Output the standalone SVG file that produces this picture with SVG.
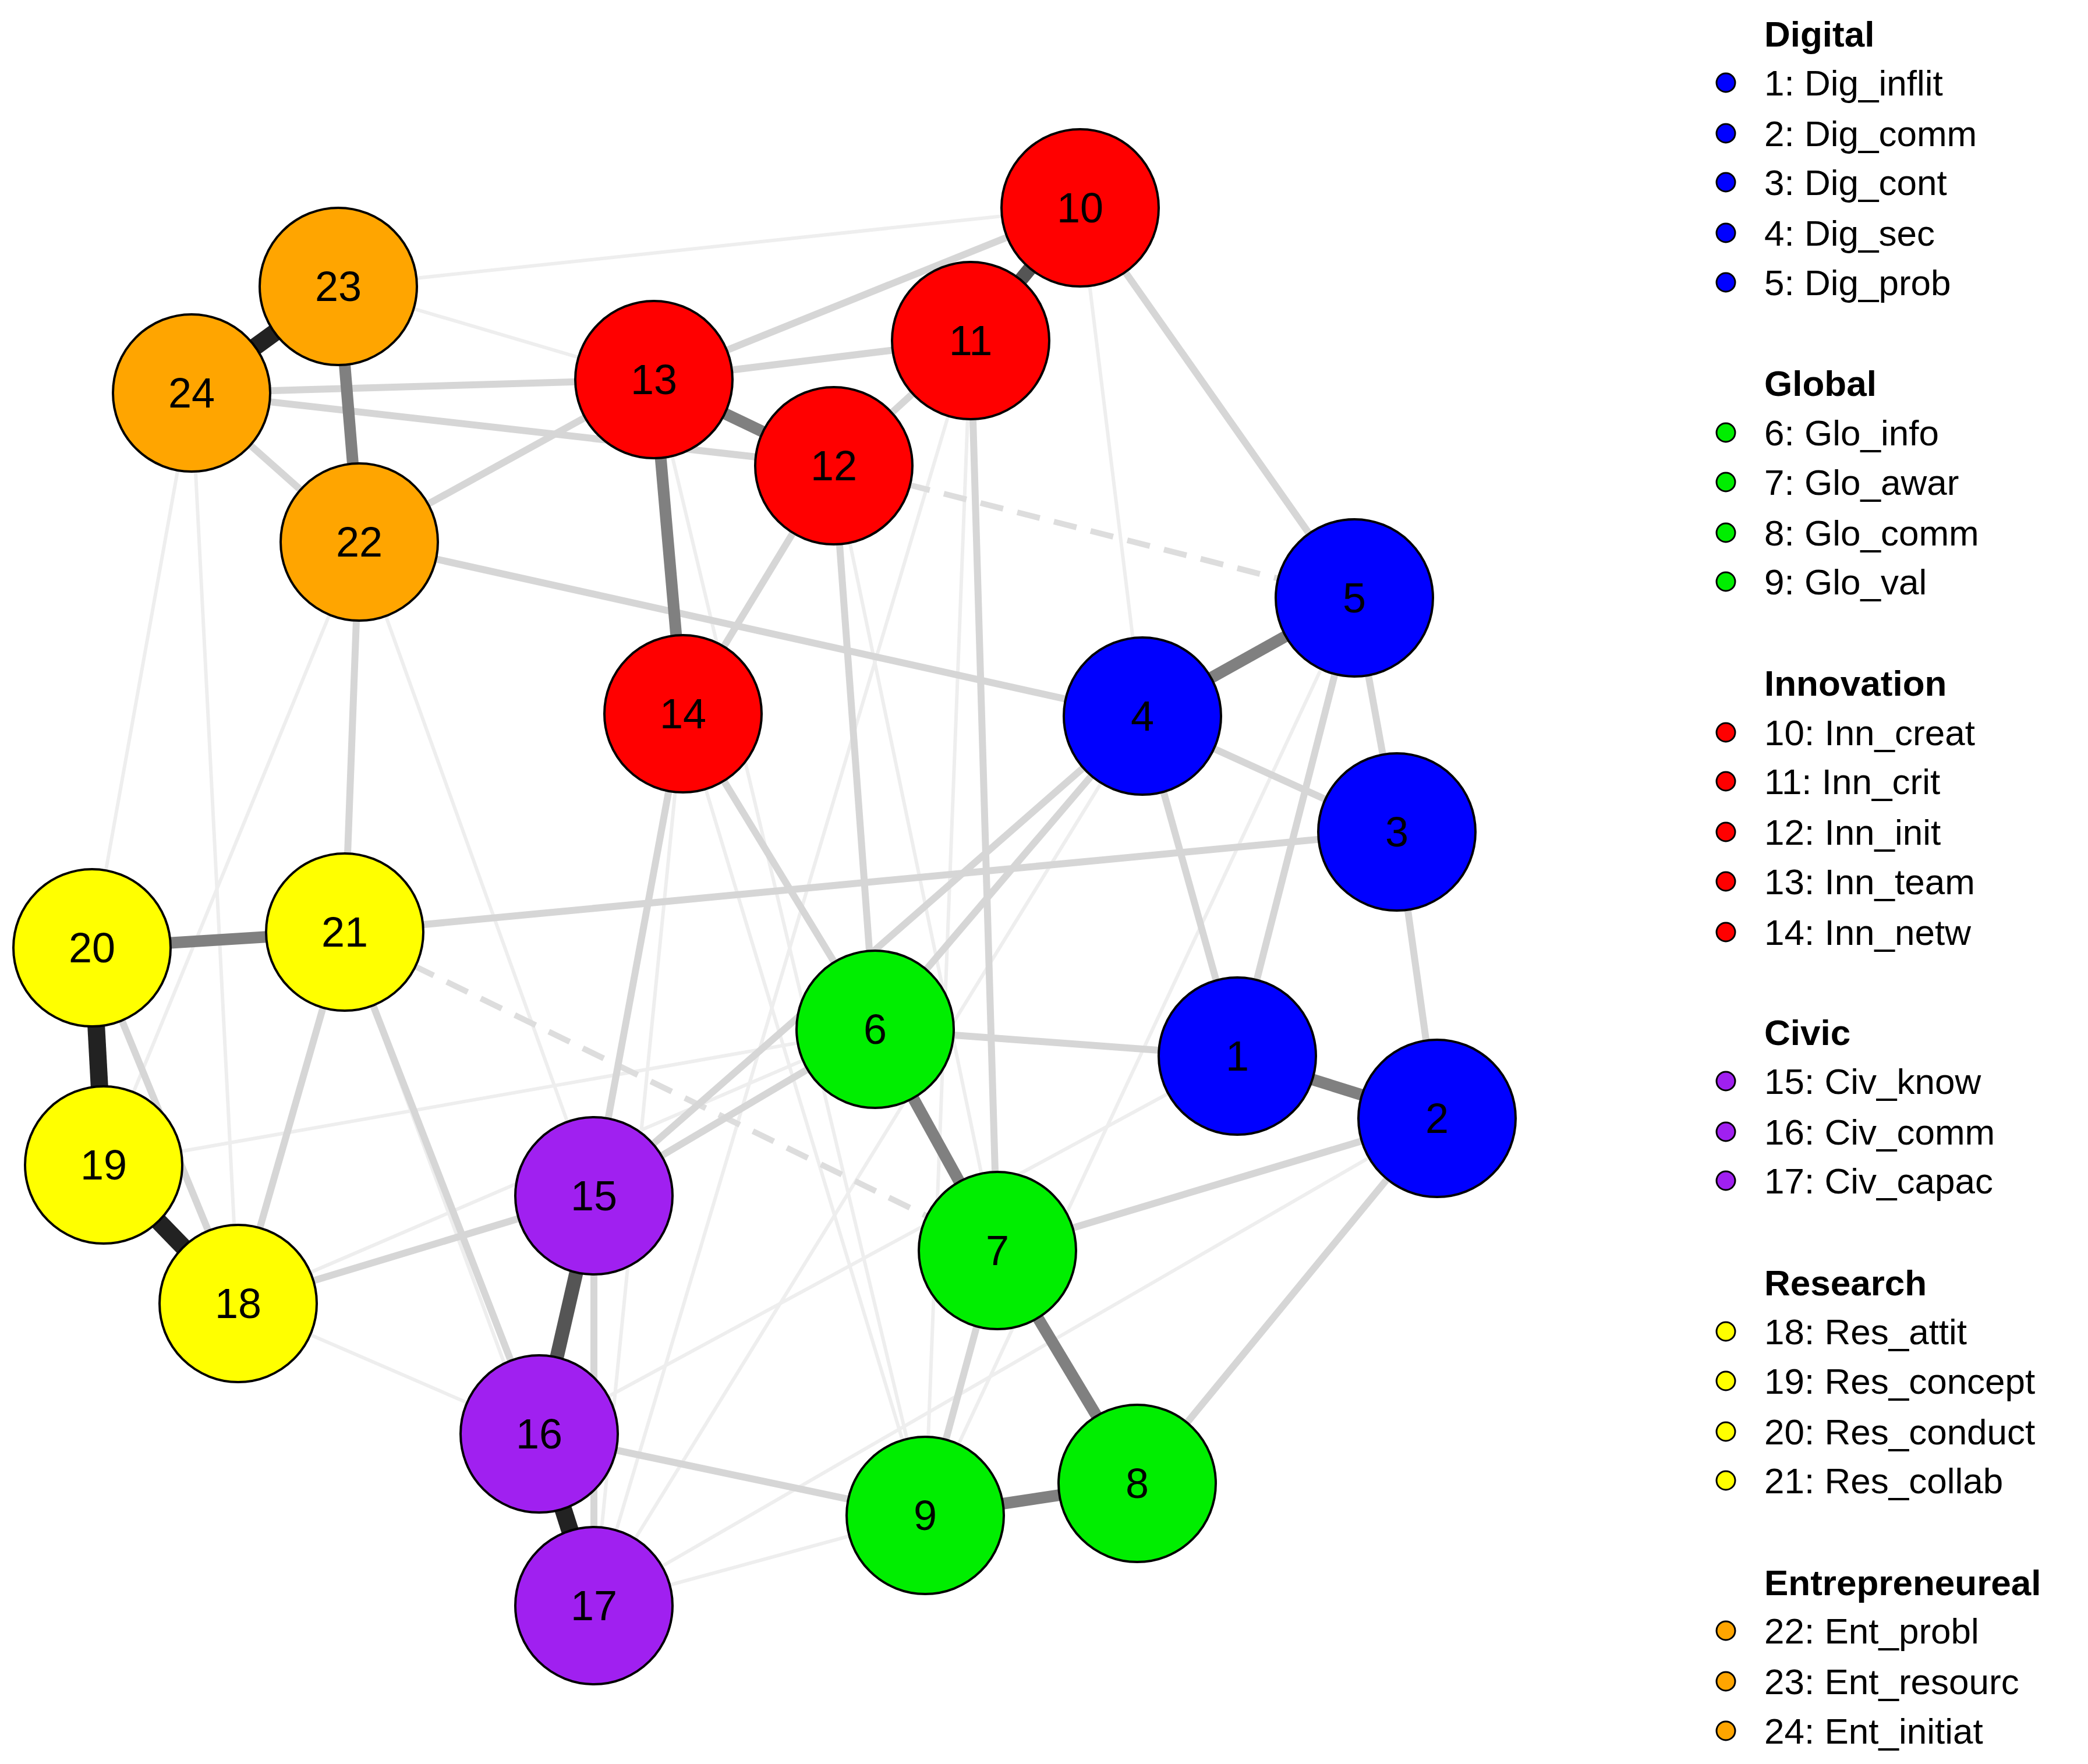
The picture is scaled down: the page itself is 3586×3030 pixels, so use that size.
<svg xmlns="http://www.w3.org/2000/svg" width="3586" height="3030" viewBox="0 0 3586 3030">
<style>
.n circle{stroke:#000;stroke-width:4}
.n text{font-family:"Liberation Sans",Arial,sans-serif;font-size:72px;text-anchor:middle;dominant-baseline:central}
.lg text{font-family:"Liberation Sans",Arial,sans-serif;font-size:62px}
.lg .h{font-weight:bold}
.lg circle{stroke:#000;stroke-width:3}
.f{stroke:#eeeeee;stroke-width:6}
.l{stroke:#d6d6d6;stroke-width:12}
.m{stroke:#808080;stroke-width:20}
.d{stroke:#555;stroke-width:24}
.k{stroke:#222;stroke-width:30}
.ds{stroke:#dddddd;stroke-width:10;stroke-dasharray:40 25}
</style>
<rect width="3586" height="3030" fill="#fff"/>
<g id="edges" fill="none">
<line class="f" x1="329" y1="675" x2="158" y2="1628"/>
<line class="f" x1="329" y1="675" x2="409" y2="2239"/>
<line class="f" x1="581" y1="492" x2="1123" y2="652"/>
<line class="f" x1="581" y1="492" x2="1855" y2="357"/>
<line class="f" x1="617" y1="931" x2="1020" y2="2054"/>
<line class="f" x1="617" y1="931" x2="178" y2="2001"/>
<line class="f" x1="1123" y1="652" x2="1589" y2="2603"/>
<line class="f" x1="1667" y1="585" x2="1589" y2="2603"/>
<line class="f" x1="1667" y1="585" x2="1020" y2="2758"/>
<line class="f" x1="1432" y1="800" x2="1713" y2="2148"/>
<line class="f" x1="1962" y1="1230" x2="1020" y2="2758"/>
<line class="f" x1="2125" y1="1814" x2="926" y2="2463"/>
<line class="f" x1="2468" y1="1921" x2="1020" y2="2758"/>
<line class="f" x1="1503" y1="1768" x2="178" y2="2001"/>
<line class="f" x1="1503" y1="1768" x2="409" y2="2239"/>
<line class="f" x1="409" y1="2239" x2="926" y2="2463"/>
<line class="f" x1="592" y1="1601" x2="1020" y2="2758"/>
<line class="f" x1="1173" y1="1226" x2="1020" y2="2758"/>
<line class="f" x1="1173" y1="1226" x2="1589" y2="2603"/>
<line class="f" x1="1020" y1="2758" x2="1589" y2="2603"/>
<line class="f" x1="2326" y1="1027" x2="1589" y2="2603"/>
<line class="f" x1="1855" y1="357" x2="1962" y2="1230"/>
<line class="ds" x1="592" y1="1601" x2="1713" y2="2148"/>
<line class="ds" x1="1432" y1="800" x2="2326" y2="1027"/>
<line class="l" x1="329" y1="675" x2="1123" y2="652"/>
<line class="l" x1="329" y1="675" x2="1432" y2="800"/>
<line class="l" x1="617" y1="931" x2="1123" y2="652"/>
<line class="l" x1="617" y1="931" x2="1962" y2="1230"/>
<line class="l" x1="1123" y1="652" x2="1855" y2="357"/>
<line class="l" x1="1123" y1="652" x2="1667" y2="585"/>
<line class="l" x1="1667" y1="585" x2="1432" y2="800"/>
<line class="l" x1="1432" y1="800" x2="1173" y2="1226"/>
<line class="l" x1="1855" y1="357" x2="2326" y2="1027"/>
<line class="l" x1="1667" y1="585" x2="1713" y2="2148"/>
<line class="l" x1="1432" y1="800" x2="1503" y2="1768"/>
<line class="l" x1="1173" y1="1226" x2="1503" y2="1768"/>
<line class="l" x1="1173" y1="1226" x2="1020" y2="2054"/>
<line class="l" x1="2326" y1="1027" x2="2399" y2="1429"/>
<line class="l" x1="2399" y1="1429" x2="2468" y2="1921"/>
<line class="l" x1="1962" y1="1230" x2="2399" y2="1429"/>
<line class="l" x1="1962" y1="1230" x2="2125" y2="1814"/>
<line class="l" x1="2326" y1="1027" x2="2125" y2="1814"/>
<line class="l" x1="1962" y1="1230" x2="1503" y2="1768"/>
<line class="l" x1="1962" y1="1230" x2="1020" y2="2054"/>
<line class="l" x1="1503" y1="1768" x2="2125" y2="1814"/>
<line class="l" x1="1503" y1="1768" x2="1020" y2="2054"/>
<line class="l" x1="2468" y1="1921" x2="1953" y2="2548"/>
<line class="l" x1="2468" y1="1921" x2="1713" y2="2148"/>
<line class="l" x1="1713" y1="2148" x2="1589" y2="2603"/>
<line class="l" x1="926" y1="2463" x2="1589" y2="2603"/>
<line class="l" x1="592" y1="1601" x2="2399" y2="1429"/>
<line class="l" x1="617" y1="931" x2="592" y2="1601"/>
<line class="l" x1="592" y1="1601" x2="409" y2="2239"/>
<line class="l" x1="592" y1="1601" x2="926" y2="2463"/>
<line class="l" x1="158" y1="1628" x2="409" y2="2239"/>
<line class="l" x1="1020" y1="2054" x2="409" y2="2239"/>
<line class="l" x1="1020" y1="2054" x2="1020" y2="2758"/>
<line class="l" x1="329" y1="675" x2="617" y2="931"/>
<line class="m" x1="581" y1="492" x2="617" y2="931"/>
<line class="m" x1="1123" y1="652" x2="1432" y2="800"/>
<line class="m" x1="1123" y1="652" x2="1173" y2="1226"/>
<line class="m" x1="1962" y1="1230" x2="2326" y2="1027"/>
<line class="m" x1="2125" y1="1814" x2="2468" y2="1921"/>
<line class="m" x1="1503" y1="1768" x2="1713" y2="2148"/>
<line class="m" x1="1713" y1="2148" x2="1953" y2="2548"/>
<line class="m" x1="1589" y1="2603" x2="1953" y2="2548"/>
<line class="m" x1="158" y1="1628" x2="592" y2="1601"/>
<line class="d" x1="1855" y1="357" x2="1667" y2="585"/>
<line class="d" x1="1020" y1="2054" x2="926" y2="2463"/>
<line class="k" x1="158" y1="1628" x2="178" y2="2001"/>
<line class="k" x1="178" y1="2001" x2="409" y2="2239"/>
<line class="k" x1="926" y1="2463" x2="1020" y2="2758"/>
<line class="k" x1="581" y1="492" x2="329" y2="675"/>
</g>
<g id="n1" class="n"><circle cx="2125" cy="1814" r="135" fill="#0000ff"/><text x="2125" y="1814">1</text></g>
<g id="n2" class="n"><circle cx="2468" cy="1921" r="135" fill="#0000ff"/><text x="2468" y="1921">2</text></g>
<g id="n3" class="n"><circle cx="2399" cy="1429" r="135" fill="#0000ff"/><text x="2399" y="1429">3</text></g>
<g id="n4" class="n"><circle cx="1962" cy="1230" r="135" fill="#0000ff"/><text x="1962" y="1230">4</text></g>
<g id="n5" class="n"><circle cx="2326" cy="1027" r="135" fill="#0000ff"/><text x="2326" y="1027">5</text></g>
<g id="n6" class="n"><circle cx="1503" cy="1768" r="135" fill="#00ee00"/><text x="1503" y="1768">6</text></g>
<g id="n7" class="n"><circle cx="1713" cy="2148" r="135" fill="#00ee00"/><text x="1713" y="2148">7</text></g>
<g id="n8" class="n"><circle cx="1953" cy="2548" r="135" fill="#00ee00"/><text x="1953" y="2548">8</text></g>
<g id="n9" class="n"><circle cx="1589" cy="2603" r="135" fill="#00ee00"/><text x="1589" y="2603">9</text></g>
<g id="n10" class="n"><circle cx="1855" cy="357" r="135" fill="#ff0000"/><text x="1855" y="357">10</text></g>
<g id="n11" class="n"><circle cx="1667" cy="585" r="135" fill="#ff0000"/><text x="1667" y="585">11</text></g>
<g id="n12" class="n"><circle cx="1432" cy="800" r="135" fill="#ff0000"/><text x="1432" y="800">12</text></g>
<g id="n13" class="n"><circle cx="1123" cy="652" r="135" fill="#ff0000"/><text x="1123" y="652">13</text></g>
<g id="n14" class="n"><circle cx="1173" cy="1226" r="135" fill="#ff0000"/><text x="1173" y="1226">14</text></g>
<g id="n15" class="n"><circle cx="1020" cy="2054" r="135" fill="#a020f0"/><text x="1020" y="2054">15</text></g>
<g id="n16" class="n"><circle cx="926" cy="2463" r="135" fill="#a020f0"/><text x="926" y="2463">16</text></g>
<g id="n17" class="n"><circle cx="1020" cy="2758" r="135" fill="#a020f0"/><text x="1020" y="2758">17</text></g>
<g id="n18" class="n"><circle cx="409" cy="2239" r="135" fill="#ffff00"/><text x="409" y="2239">18</text></g>
<g id="n19" class="n"><circle cx="178" cy="2001" r="135" fill="#ffff00"/><text x="178" y="2001">19</text></g>
<g id="n20" class="n"><circle cx="158" cy="1628" r="135" fill="#ffff00"/><text x="158" y="1628">20</text></g>
<g id="n21" class="n"><circle cx="592" cy="1601" r="135" fill="#ffff00"/><text x="592" y="1601">21</text></g>
<g id="n22" class="n"><circle cx="617" cy="931" r="135" fill="#ffa500"/><text x="617" y="931">22</text></g>
<g id="n23" class="n"><circle cx="581" cy="492" r="135" fill="#ffa500"/><text x="581" y="492">23</text></g>
<g id="n24" class="n"><circle cx="329" cy="675" r="135" fill="#ffa500"/><text x="329" y="675">24</text></g>
<g id="legend" class="lg">
<text class="h" x="3030" y="80">Digital</text>
<circle cx="2964" cy="142" r="16" fill="#0000ff"/><text x="3030" y="164">1: Dig_inflit</text>
<circle cx="2964" cy="229" r="16" fill="#0000ff"/><text x="3030" y="251">2: Dig_comm</text>
<circle cx="2964" cy="313" r="16" fill="#0000ff"/><text x="3030" y="335">3: Dig_cont</text>
<circle cx="2964" cy="400" r="16" fill="#0000ff"/><text x="3030" y="422">4: Dig_sec</text>
<circle cx="2964" cy="485" r="16" fill="#0000ff"/><text x="3030" y="507">5: Dig_prob</text>
<text class="h" x="3030" y="680">Global</text>
<circle cx="2964" cy="743" r="16" fill="#00ee00"/><text x="3030" y="765">6: Glo_info</text>
<circle cx="2964" cy="828" r="16" fill="#00ee00"/><text x="3030" y="850">7: Glo_awar</text>
<circle cx="2964" cy="915" r="16" fill="#00ee00"/><text x="3030" y="937">8: Glo_comm</text>
<circle cx="2964" cy="999" r="16" fill="#00ee00"/><text x="3030" y="1021">9: Glo_val</text>
<text class="h" x="3030" y="1195">Innovation</text>
<circle cx="2964" cy="1258" r="16" fill="#ff0000"/><text x="3030" y="1280">10: Inn_creat</text>
<circle cx="2964" cy="1342" r="16" fill="#ff0000"/><text x="3030" y="1364">11: Inn_crit</text>
<circle cx="2964" cy="1429" r="16" fill="#ff0000"/><text x="3030" y="1451">12: Inn_init</text>
<circle cx="2964" cy="1514" r="16" fill="#ff0000"/><text x="3030" y="1536">13: Inn_team</text>
<circle cx="2964" cy="1601" r="16" fill="#ff0000"/><text x="3030" y="1623">14: Inn_netw</text>
<text class="h" x="3030" y="1795">Civic</text>
<circle cx="2964" cy="1857" r="16" fill="#a020f0"/><text x="3030" y="1879">15: Civ_know</text>
<circle cx="2964" cy="1944" r="16" fill="#a020f0"/><text x="3030" y="1966">16: Civ_comm</text>
<circle cx="2964" cy="2028" r="16" fill="#a020f0"/><text x="3030" y="2050">17: Civ_capac</text>
<text class="h" x="3030" y="2225">Research</text>
<circle cx="2964" cy="2287" r="16" fill="#ffff00"/><text x="3030" y="2309">18: Res_attit</text>
<circle cx="2964" cy="2372" r="16" fill="#ffff00"/><text x="3030" y="2394">19: Res_concept</text>
<circle cx="2964" cy="2459" r="16" fill="#ffff00"/><text x="3030" y="2481">20: Res_conduct</text>
<circle cx="2964" cy="2543" r="16" fill="#ffff00"/><text x="3030" y="2565">21: Res_collab</text>
<text class="h" x="3030" y="2740">Entrepreneureal</text>
<circle cx="2964" cy="2801" r="16" fill="#ffa500"/><text x="3030" y="2823">22: Ent_probl</text>
<circle cx="2964" cy="2888" r="16" fill="#ffa500"/><text x="3030" y="2910">23: Ent_resourc</text>
<circle cx="2964" cy="2973" r="16" fill="#ffa500"/><text x="3030" y="2995">24: Ent_initiat</text>
</g>
</svg>
